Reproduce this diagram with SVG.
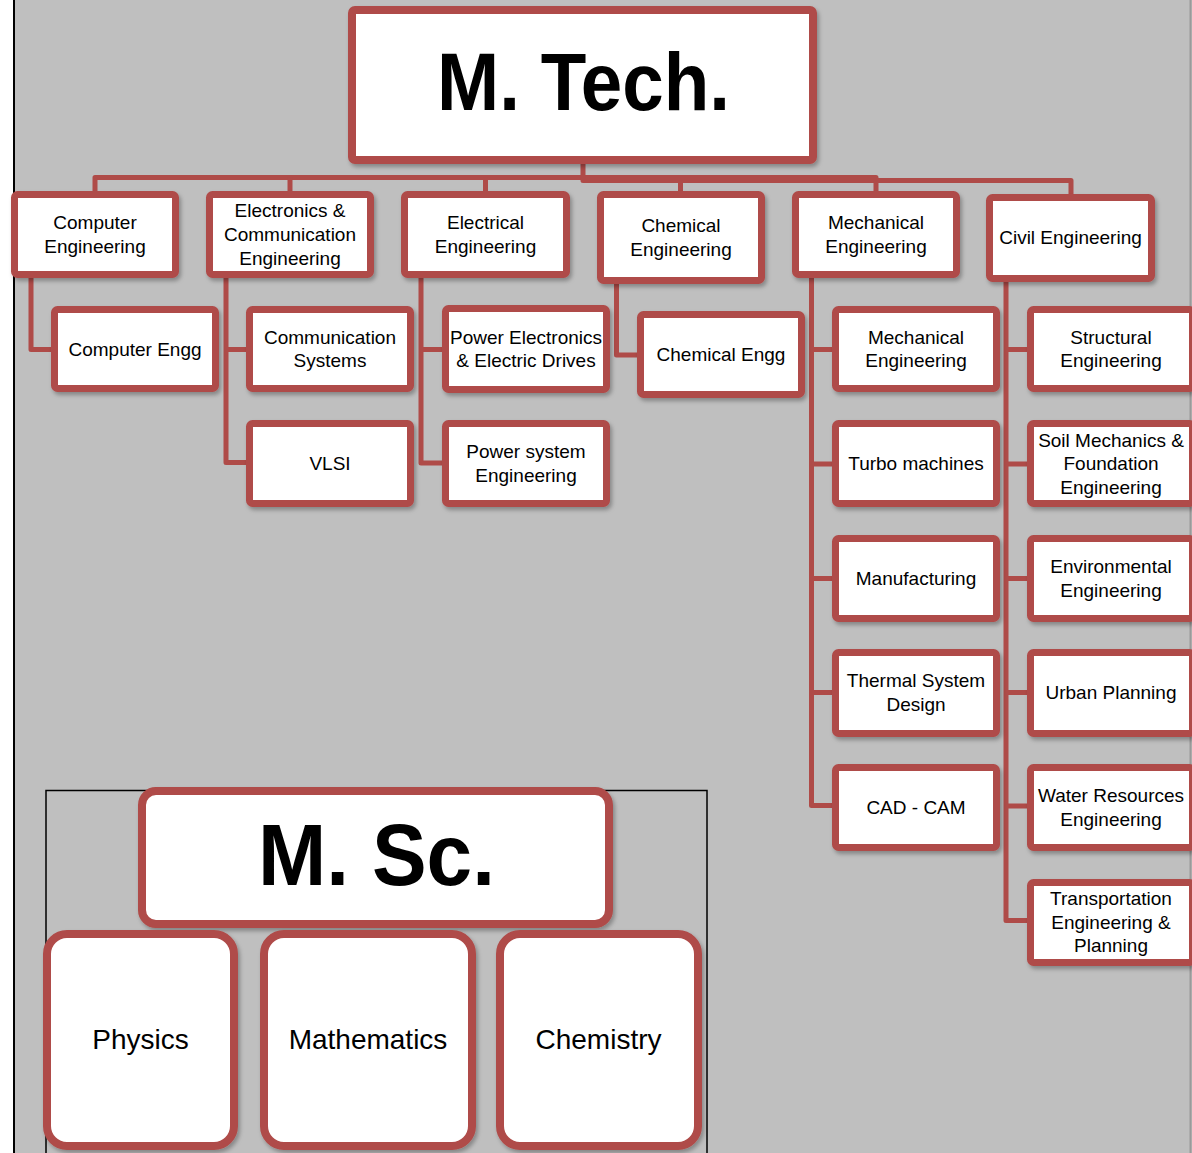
<svg xmlns="http://www.w3.org/2000/svg" width="1192" height="1153" viewBox="0 0 1192 1153">
<defs>
<filter id="sh" x="-10%" y="-10%" width="130%" height="140%">
<feDropShadow dx="2" dy="3" stdDeviation="2" flood-color="#000" flood-opacity="0.3"/>
</filter>
<style>
.box{fill:#fff;stroke:#AF4B48;stroke-width:7;filter:url(#sh)}
.big{fill:#fff;stroke:#AF4B48;stroke-width:8;filter:url(#sh)}
.conn{stroke:#AF4B48;stroke-width:5;fill:none;stroke-linejoin:round}
.t{font-family:"Liberation Sans",Arial,sans-serif;font-size:19px;text-anchor:middle;fill:#000}
.h{font-family:"Liberation Sans",Arial,sans-serif;font-weight:bold;text-anchor:middle;fill:#000}
.m{font-family:"Liberation Sans",Arial,sans-serif;font-size:28px;text-anchor:middle;fill:#000}
</style>
</defs>
<rect x="0" y="0" width="1192" height="1153" fill="#fff"/>
<rect x="14" y="0" width="1178" height="1153" fill="#BFBFBF"/>
<line x1="14" y1="0" x2="14" y2="1153" stroke="#000" stroke-width="2"/>
<line x1="1190.5" y1="0" x2="1190.5" y2="1153" stroke="#9a9a9a" stroke-width="2"/>

<g id="connectors">
<path class="conn" d="M95,191 V177.5 H876 V191"/>
<path class="conn" d="M290,177.5 V191"/>
<path class="conn" d="M485.5,177.5 V191"/>
<path class="conn" d="M583,164 V180.5 H1071 V194"/>
<path class="conn" d="M680.5,180.5 V191"/>
<path class="conn" d="M31,278 V349.5 H51"/>
<path class="conn" d="M226,278 V462.5 H246 M226,349.5 H246"/>
<path class="conn" d="M421,278 V463 H442 M421,349.5 H442"/>
<path class="conn" d="M616.5,284 V355 H637"/>
<path class="conn" d="M811.5,278 V805.5 H832 M811.5,349.5 H832 M811.5,464 H832 M811.5,578.5 H832 M811.5,692.5 H832"/>
<path class="conn" d="M1006,282 V920.5 H1027 M1006,349.5 H1027 M1006,464 H1027 M1006,578.5 H1027 M1006,692.5 H1027 M1006,806 H1027"/>
</g>

<g id="mtech">
<rect class="big" x="352" y="10" width="461" height="150" rx="3"/>
<text class="h" x="583.5" y="110" font-size="81" textLength="293" lengthAdjust="spacingAndGlyphs">M. Tech.</text>
</g>

<g id="computer-engineering">
<rect class="box" x="14.5" y="194.5" width="161" height="80" rx="3"/>
<text class="t" x="95" y="229">Computer</text>
<text class="t" x="95" y="253">Engineering</text>
</g>
<g id="ece">
<rect class="box" x="209.5" y="194.5" width="161" height="80" rx="3"/>
<text class="t" x="290" y="217">Electronics &amp;</text>
<text class="t" x="290" y="241">Communication</text>
<text class="t" x="290" y="265">Engineering</text>
</g>
<g id="electrical-engineering">
<rect class="box" x="404.5" y="194.5" width="162" height="80" rx="3"/>
<text class="t" x="485.5" y="229">Electrical</text>
<text class="t" x="485.5" y="253">Engineering</text>
</g>
<g id="chemical-engineering">
<rect class="box" x="600.5" y="194.5" width="161" height="86" rx="3"/>
<text class="t" x="681" y="232">Chemical</text>
<text class="t" x="681" y="256">Engineering</text>
</g>
<g id="mechanical-engineering">
<rect class="box" x="795.5" y="194.5" width="161" height="80" rx="3"/>
<text class="t" x="876" y="229">Mechanical</text>
<text class="t" x="876" y="253">Engineering</text>
</g>
<g id="civil-engineering">
<rect class="box" x="989.5" y="197.5" width="162" height="81" rx="3"/>
<text class="t" x="1070.5" y="244">Civil Engineering</text>
</g>

<g id="computer-engg">
<rect class="box" x="54.5" y="309.5" width="161" height="79" rx="3"/>
<text class="t" x="135" y="355.5">Computer Engg</text>
</g>
<g id="communication-systems">
<rect class="box" x="249.5" y="309.5" width="161" height="79" rx="3"/>
<text class="t" x="330" y="344">Communication</text>
<text class="t" x="330" y="367">Systems</text>
</g>
<g id="vlsi">
<rect class="box" x="249.5" y="423.5" width="161" height="80" rx="3"/>
<text class="t" x="330" y="470">VLSI</text>
</g>
<g id="power-electronics">
<rect class="box" x="445.5" y="308.5" width="161" height="81" rx="3"/>
<text class="t" x="526" y="344">Power Electronics</text>
<text class="t" x="526" y="367">&amp; Electric Drives</text>
</g>
<g id="power-system">
<rect class="box" x="445.5" y="423.5" width="161" height="80" rx="3"/>
<text class="t" x="526" y="458">Power system</text>
<text class="t" x="526" y="482">Engineering</text>
</g>
<g id="chemical-engg">
<rect class="box" x="640.5" y="314.5" width="161" height="80" rx="3"/>
<text class="t" x="721" y="361">Chemical Engg</text>
</g>

<g id="mech-mechanical">
<rect class="box" x="835.5" y="309.5" width="161" height="79" rx="3"/>
<text class="t" x="916" y="344">Mechanical</text>
<text class="t" x="916" y="367">Engineering</text>
</g>
<g id="turbo-machines">
<rect class="box" x="835.5" y="423.5" width="161" height="80" rx="3"/>
<text class="t" x="916" y="470">Turbo machines</text>
</g>
<g id="manufacturing">
<rect class="box" x="835.5" y="538.5" width="161" height="80" rx="3"/>
<text class="t" x="916" y="585">Manufacturing</text>
</g>
<g id="thermal-system-design">
<rect class="box" x="835.5" y="652.5" width="161" height="81" rx="3"/>
<text class="t" x="916" y="687">Thermal System</text>
<text class="t" x="916" y="711">Design</text>
</g>
<g id="cad-cam">
<rect class="box" x="835.5" y="767.5" width="161" height="80" rx="3"/>
<text class="t" x="916" y="814">CAD - CAM</text>
</g>

<g id="structural-engineering">
<rect class="box" x="1030.5" y="309.5" width="162" height="79" rx="3"/>
<text class="t" x="1111" y="344">Structural</text>
<text class="t" x="1111" y="367">Engineering</text>
</g>
<g id="soil-mechanics">
<rect class="box" x="1030.5" y="423.5" width="162" height="80" rx="3"/>
<text class="t" x="1111" y="447">Soil Mechanics &amp;</text>
<text class="t" x="1111" y="470">Foundation</text>
<text class="t" x="1111" y="494">Engineering</text>
</g>
<g id="environmental-engineering">
<rect class="box" x="1030.5" y="538.5" width="162" height="80" rx="3"/>
<text class="t" x="1111" y="573">Environmental</text>
<text class="t" x="1111" y="597">Engineering</text>
</g>
<g id="urban-planning">
<rect class="box" x="1030.5" y="652.5" width="162" height="81" rx="3"/>
<text class="t" x="1111" y="699">Urban Planning</text>
</g>
<g id="water-resources">
<rect class="box" x="1030.5" y="767.5" width="162" height="80" rx="3"/>
<text class="t" x="1111" y="802">Water Resources</text>
<text class="t" x="1111" y="826">Engineering</text>
</g>
<g id="transportation">
<rect class="box" x="1030.5" y="882.5" width="162" height="80" rx="3"/>
<text class="t" x="1111" y="905">Transportation</text>
<text class="t" x="1111" y="929">Engineering &amp;</text>
<text class="t" x="1111" y="952">Planning</text>
</g>

<g id="msc-frame">
<rect x="46" y="790.5" width="661" height="380" fill="none" stroke="#000" stroke-width="1.5"/>
</g>
<g id="msc">
<rect class="big" x="142" y="791" width="467" height="133" rx="14"/>
<text class="h" x="376.5" y="885" font-size="87" textLength="237" lengthAdjust="spacingAndGlyphs">M. Sc.</text>
</g>
<g id="physics">
<rect class="big" x="47" y="934" width="187" height="212" rx="20"/>
<text class="m" x="140.5" y="1049">Physics</text>
</g>
<g id="mathematics">
<rect class="big" x="264" y="934" width="208" height="212" rx="20"/>
<text class="m" x="368" y="1049">Mathematics</text>
</g>
<g id="chemistry">
<rect class="big" x="500" y="934" width="198" height="212" rx="20"/>
<text class="m" x="598.5" y="1049">Chemistry</text>
</g>
</svg>
